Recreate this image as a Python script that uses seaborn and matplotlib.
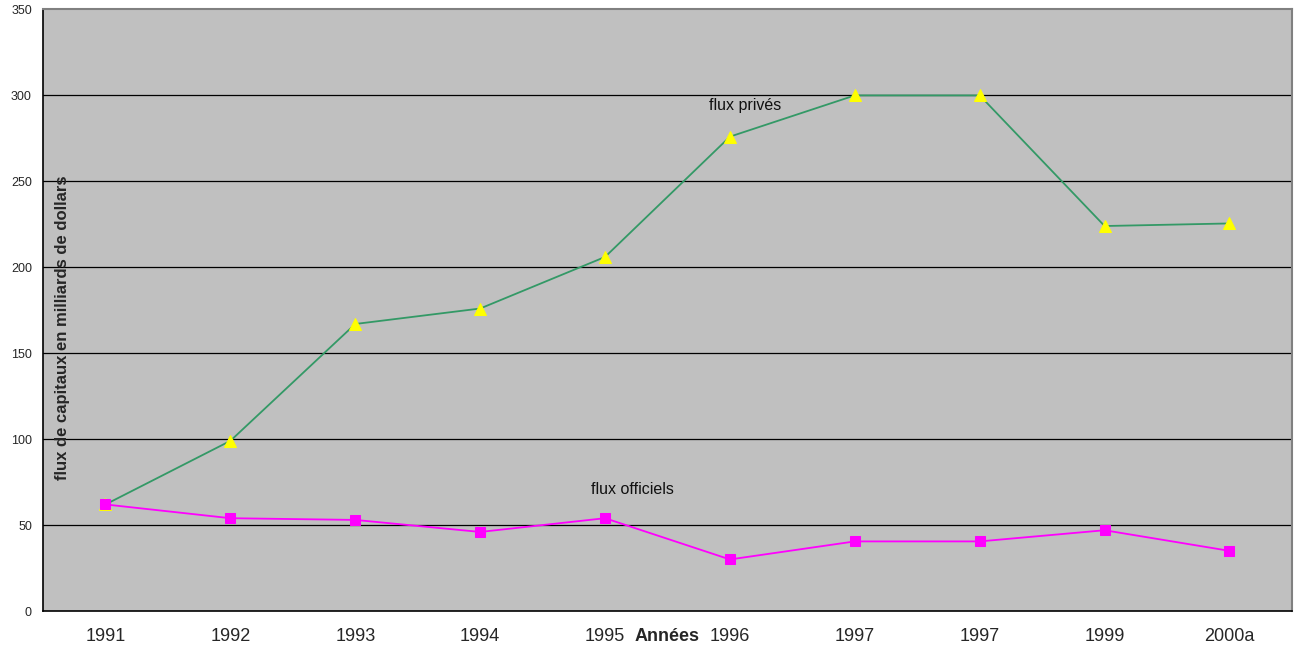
import numpy as np
import pandas as pd
import matplotlib
matplotlib.use("Agg")
import matplotlib.pyplot as plt
import seaborn as sns

years = ["1991", "1992", "1993", "1994", "1995", "1996", "1997", "1997", "1999", "2000a"]
flux_prives = [62, 99, 167, 176, 206, 276, 300, 300, 224, 225.5]
flux_officiels = [62, 54, 53, 46, 54, 30, 40.5, 40.5, 47, 35]

sns.set_theme(style="white")
plt.rcParams['font.family'] = ['Liberation Sans', 'DejaVu Sans']

pos = np.arange(len(years))
df = pd.DataFrame({"pos": pos, "prives": flux_prives, "officiels": flux_officiels})

fig = plt.figure(figsize=(13, 6.53), dpi=100)
ax = fig.add_axes([0.0331, 0.0643, 0.9607, 0.9212])
ax.set_facecolor("#C0C0C0")

sns.lineplot(data=df, x="pos", y="prives", ax=ax, color="#339966", lw=1.3,
             marker="^", markersize=8, markerfacecolor="#FFFF00",
             markeredgecolor="#FFFF00", zorder=4)
sns.lineplot(data=df, x="pos", y="officiels", ax=ax, color="#FF00FF", lw=1.3,
             marker="s", markersize=7, markerfacecolor="#FF00FF",
             markeredgecolor="#FF00FF", zorder=5)

ax.set_xlim(-0.5, len(years) - 0.5)
ax.set_ylim(0, 350)
ax.set_yticks(np.arange(0, 351, 50))
for v in range(50, 301, 50):
    ax.axhline(v, color="black", lw=0.9, zorder=1)

ax.set_xticks(pos)
ax.set_xticklabels(years, fontsize=13)
ax.set_xticks(np.arange(-0.5, len(years), 1), minor=True)
ax.tick_params(axis="x", which="major", length=0, pad=12)
ax.tick_params(axis="x", which="minor", length=5, width=1, color="black", direction="out")
ax.tick_params(axis="y", length=5, width=1, color="black", direction="out", labelsize=9, pad=3)

for s in ["left", "bottom"]:
    ax.spines[s].set_color("black")
    ax.spines[s].set_linewidth(1.2)
for s in ["top", "right"]:
    ax.spines[s].set_color("#808080")
    ax.spines[s].set_linewidth(1.5)

ax.set_xlabel("")
ax.set_ylabel("")
ax.text(-0.348, 165, "flux de capitaux en milliards de dollars", rotation=90,
        fontsize=12, fontweight="bold", ha="center", va="center", zorder=6)
ax.annotate("Années", xy=(4.5, 0), xycoords=("data", "axes fraction"),
            xytext=(0, -12), textcoords="offset points", ha="center", va="top",
            fontsize=13, fontweight="bold")
ax.text(5.12, 294, "flux privés", fontsize=11.5, ha="center", va="center", color="#111111", zorder=6)
ax.text(4.22, 70.5, "flux officiels", fontsize=11.5, ha="center", va="center", color="#111111", zorder=6)

fig.savefig("out.png", dpi=100)
